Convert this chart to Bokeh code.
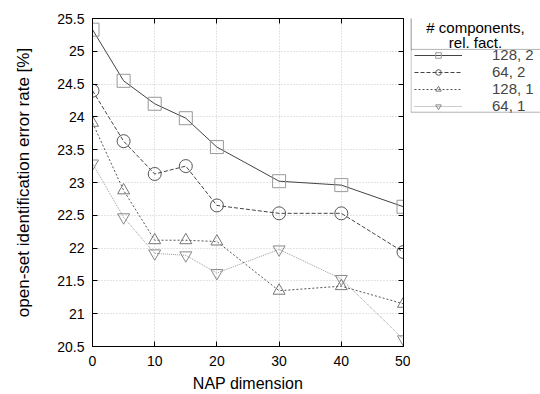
from bokeh.plotting import figure
from bokeh.layouts import row
from bokeh.models import (Legend, LegendItem, LinearAxis, FixedTicker, NumeralTickFormatter,
                          CustomJSTickFormatter, Range1d, Label, BoxAnnotation)
from bokeh.embed import file_html
from bokeh.resources import INLINE

nap_dim = [0, 5, 10, 15, 20, 30, 40, 50]
err_128_2 = [25.33, 24.55, 24.20, 23.98, 23.54, 23.02, 22.96, 22.63]
err_64_2 = [24.40, 23.63, 23.13, 23.25, 22.65, 22.53, 22.53, 21.94]
err_128_1 = [23.91, 22.88, 22.12, 22.12, 22.10, 21.35, 21.42, 21.15]
err_64_1 = [23.29, 22.47, 21.92, 21.89, 21.62, 21.98, 21.53, 20.61]
series_labels = ["128, 2", "64, 2", "128, 1", "64, 1"]
legend_title = ["# components,", "rel. fact."]
x_ticks = [0, 10, 20, 30, 40, 50]
y_ticks = [20.5, 21, 21.5, 22, 22.5, 23, 23.5, 24, 24.5, 25, 25.5]

FONT = "Liberation Sans"

p = figure(width=410, height=394, output_backend="svg", toolbar_location=None,
           x_range=Range1d(0, 50), y_range=Range1d(20.5, 25.5),
           min_border_left=92, min_border_right=7, min_border_top=18, min_border_bottom=47)
p.background_fill_color = "white"
p.border_fill_color = "white"
p.outline_line_color = "black"
p.outline_line_width = 1

for ax in (p.xaxis[0], p.yaxis[0]):
    ax.major_tick_in = 5
    ax.major_tick_out = 0
    ax.minor_tick_in = 0
    ax.minor_tick_out = 0
    ax.axis_line_color = "black"
    ax.major_tick_line_color = "black"
    ax.major_label_text_font = FONT
    ax.major_label_text_font_size = "14px"
    ax.major_label_text_color = "black"
    ax.axis_label_text_font = FONT
    ax.axis_label_text_font_size = "16px"
    ax.axis_label_text_font_style = "normal"
    ax.axis_label_text_color = "black"

p.xaxis.ticker = FixedTicker(ticks=x_ticks)
p.yaxis.ticker = FixedTicker(ticks=y_ticks)
p.yaxis.formatter = NumeralTickFormatter(format="0.[0]")
p.xaxis.axis_label = "NAP dimension"
p.yaxis.axis_label = "open-set identification error rate [%]"
p.yaxis.axis_label_text_font_size = "17px"
p.xaxis.major_label_standoff = 9
p.yaxis.major_label_standoff = 8
p.xaxis.axis_label_standoff = 6
p.yaxis.axis_label_standoff = 21

# mirrored axes (ticks only)
blank = CustomJSTickFormatter(code="return ''")
top = LinearAxis(ticker=FixedTicker(ticks=x_ticks), formatter=blank,
                 major_tick_in=5, major_tick_out=0, minor_tick_in=0, minor_tick_out=0,
                 major_label_standoff=0)
right = LinearAxis(ticker=FixedTicker(ticks=y_ticks), formatter=blank,
                   major_tick_in=5, major_tick_out=0, minor_tick_in=0, minor_tick_out=0,
                   major_label_standoff=0)
p.add_layout(top, "above")
p.add_layout(right, "right")

p.xgrid.grid_line_color = "#c8c8c8"
p.ygrid.grid_line_color = "#c8c8c8"
p.xgrid.grid_line_dash = "1 2"
p.ygrid.grid_line_dash = "1 2"
p.xgrid.ticker = FixedTicker(ticks=x_ticks)
p.ygrid.ticker = FixedTicker(ticks=y_ticks)

series = [err_128_2, err_64_2, err_128_1, err_64_1]
styles = [
    ("#444444", "solid", "square", 13, "#999999"),
    ("#444444", "4 2", "circle", 13, "#555555"),
    ("#555555", "2 2", "triangle", 12, "#777777"),
    ("#999999", "1 1", "inverted_triangle", 12, "#888888"),
]
for vals, (lc, dash, marker, size, mc) in zip(series, styles):
    p.line(nap_dim, vals, line_color=lc, line_width=1, line_dash=dash)
    p.scatter(nap_dim, vals, marker=marker, size=size, line_color=mc,
              fill_alpha=0, line_width=1)

# ---- legend panel (its coordinates are the page's pixels) ----
lg = figure(width=130, height=394, output_backend="svg", toolbar_location=None,
            x_range=Range1d(410, 540), y_range=Range1d(347, 18),
            x_axis_location=None, y_axis_location=None,
            min_border=0, outline_line_color=None)
lg.grid.visible = False
lg.background_fill_color = "white"
lg.border_fill_color = "white"

lg.add_layout(BoxAnnotation(left=410.5, right=560, top=16, bottom=112,
                            fill_color="white", fill_alpha=1, line_color="black", line_width=1))
lg.add_layout(BoxAnnotation(left=410.5, right=560, top=16, bottom=49,
                            fill_alpha=0, line_color="black", line_width=1))
for i, t in enumerate(legend_title):
    lg.add_layout(Label(x=475, y=27 + 15 * i, text=t, text_align="center",
                        text_baseline="middle", text_font=FONT, text_font_size="15px",
                        text_color="black"))

items = []
for vals, (lc, dash, marker, size, mc), lab in zip(series, styles, series_labels):
    r1 = lg.line(nap_dim, vals, line_color=lc, line_width=1, line_dash=dash)
    r2 = lg.scatter(nap_dim, vals, marker=marker, size=size - 2, line_color=mc,
                    fill_alpha=0, line_width=1)
    items.append(LegendItem(label=lab, renderers=[r1, r2]))

legend = Legend(items=items, location=(4, 232), orientation="vertical",
                border_line_color=None, background_fill_alpha=0,
                label_text_font=FONT, label_text_font_size="15px",
                glyph_width=48, glyph_height=14, label_height=14,
                spacing=-2, padding=6, margin=0, label_standoff=30,
                label_text_baseline="middle")
lg.add_layout(legend, "center")

layout = row(p, lg, spacing=0)
open("out.html", "w").write(file_html(layout, INLINE))
